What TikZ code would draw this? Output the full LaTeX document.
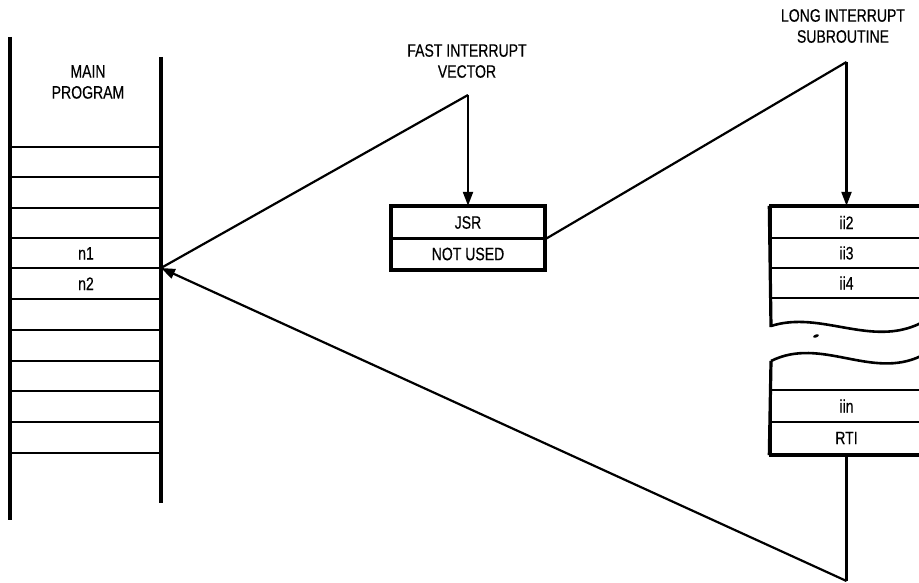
\documentclass[tikz,border=0pt]{standalone}
\usepackage{fontspec}
\setmainfont{Liberation Sans}[FakeStretch=0.78,FakeBold=0.4]
\usetikzlibrary{arrows.meta}
\begin{document}
\begin{tikzpicture}[x=1pt,y=-1pt,
  font=\fontsize{18}{21}\selectfont,
  heavy/.style={line width=3.2pt},
  divider/.style={line width=2.4pt},
  conn/.style={line width=2.2pt},
  wave/.style={line width=2.6pt},
  arr/.style={conn,-{Triangle[length=14pt,width=10pt]}},
  cell/.style={draw,divider,minimum width=152pt,minimum height=31pt,inner sep=0pt},
  lbl/.style={align=center,inner sep=0pt}]
\clip (0,0) rectangle (919,583);
% main program column
\draw[heavy] (10,37) -- (10,520);
\draw[heavy] (161,57) -- (161,503);
\foreach \y in {147,177,208,238,268,299,330,361,391,422,453}
  \draw[divider] (10,\y) -- (161,\y);
\node[lbl] (mainlbl) at (88,82) {MAIN\\PROGRAM};
\node[anchor=base,inner sep=0pt] (n1) at (86,259.5) {n1};
\node[anchor=base,inner sep=0pt] (n2) at (86,290) {n2};
\coordinate (mp) at (161,268);
% fast interrupt vector
\node[lbl] (fastlbl) at (467,61) {FAST INTERRUPT\\VECTOR};
\node[cell] (jsr) at (468,222.5) {JSR};
\node[cell] (nu) at (468,254) {NOT USED};
\draw[heavy] (jsr.north west) rectangle (nu.south east);
% long interrupt subroutine
\node[lbl] (longlbl) at (843,26) {LONG INTERRUPT\\SUBROUTINE};
\node[cell,minimum height=31pt] (ii2) at (846.5,222.5) {ii2};
\node[cell,minimum height=30pt] (ii3) at (846.5,253) {ii3};
\node[cell,minimum height=30pt] (ii4) at (846.5,283) {ii4};
\node[cell,minimum height=32pt] (iin) at (846.5,406) {iin};
\node[cell,minimum height=32pt] (rti) at (846.5,438) {RTI};
\draw[heavy] (ii2.north west) -- (ii2.north east);
\draw[heavy] (rti.south west) -- (rti.south east);
\draw[heavy] (ii2.north west) -- (771,327);
\draw[heavy] (771,361) -- (rti.south west);
\draw[wave] (771,326) .. controls (821,310) and (871,348) .. (921,323);
\draw[wave] (771,361) .. controls (821,336) and (871,380) .. (921,356);
\fill[rotate around={20:(816,336)}] (816,336) ellipse [x radius=3pt, y radius=1.5pt];
% connectors
\coordinate (ftop) at (0,95);
\coordinate (ltop) at (0,62);
\coordinate (btm) at (0,581);
\coordinate (fapex) at (jsr.north |- ftop);
\coordinate (lapex) at (ii2.north |- ltop);
\coordinate (bot) at (rti.south |- btm);
\draw[conn] (mp) -- (fapex);
\draw[arr] (fapex) -- (jsr.north);
\draw[conn] (jsr.south east) -- (lapex);
\draw[arr] (lapex) -- (ii2.north);
\draw[conn] (rti.south) -- (bot);
\draw[arr] (bot) -- (mp);
\end{tikzpicture}
\end{document}
